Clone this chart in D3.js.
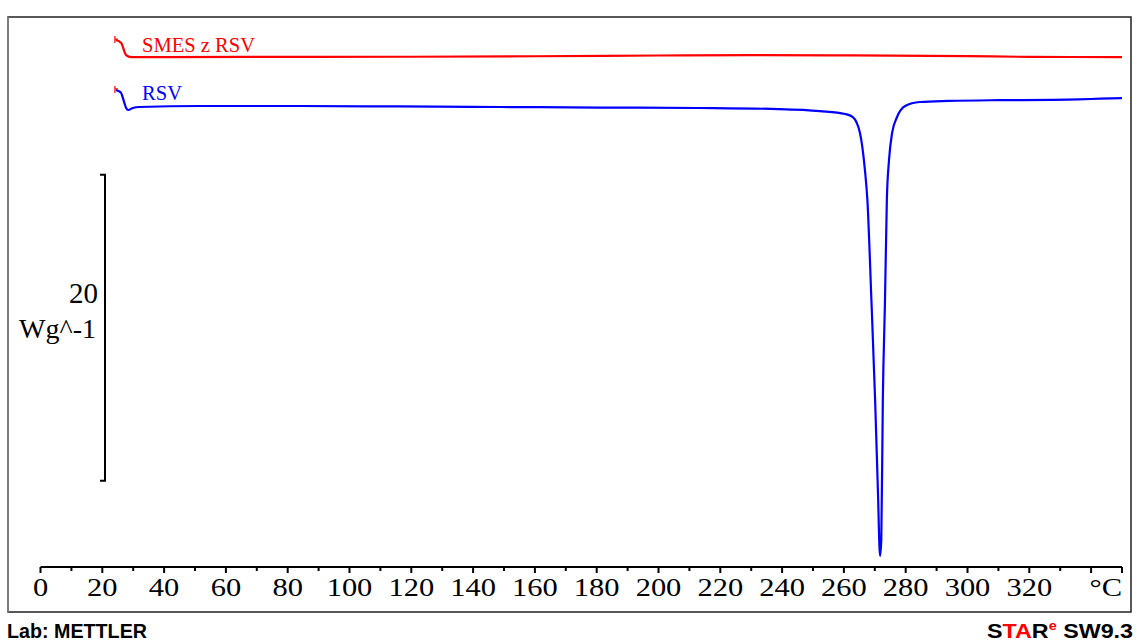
<html>
<head>
<script src="https://cdnjs.cloudflare.com/ajax/libs/d3/7.8.5/d3.min.js"></script>
</head>
<body style="margin: 0; background: #fff;">
<script>
// DSC curves, heat flow in W/g (offset) vs temperature in °C
var redName = "SMES z RSV";
var redT = [24.4, 26.1, 27.7, 29.3, 30.5, 40, 80, 120, 160, 200, 230, 260, 300, 320, 350];
var redV = [4.31, 4.12, 3.33, 3.20, 3.20, 3.20, 3.21, 3.22, 3.25, 3.30, 3.33, 3.31, 3.26, 3.21, 3.20];

var blueName = "RSV";
var blueT = [24.4, 25.5, 26.1, 27.0, 27.7, 28.4, 29.9, 32, 51.6, 84, 116, 149, 181, 213, 239,
             252.3, 260.4, 262.9, 265.2, 266.8, 267.6, 268.9, 270.1, 271.0, 271.7,
             272.1, 272.6, 273.3, 273.9, 274.6, 275.6, 277.2, 279.8, 284.6, 294, 310, 327, 336, 343, 350];
var blueV = [1.05, 0.95, 0.85, 0.30, -0.13, -0.26, -0.13, -0.065, 0, 0, -0.03, -0.065, -0.10, -0.13, -0.20,
             -0.33, -0.52, -0.72, -1.76, -4.18, -6.14, -12.68, -19.22, -25.10, -29.41,
             -28.37, -19.22, -12.68, -6.14, -3.53, -1.76, -0.72, 0, 0.26, 0.33, 0.38, 0.40, 0.43, 0.48, 0.52];

var xTicks = d3.range(0, 351, 10);
var xLabels = d3.range(0, 321, 20);
var scaleBar = [-4.5, -24.5];   // 20 W/g bar

var SERIF = "Liberation Serif";
var SANS = "Liberation Sans";

var W = 1137, H = 641;
var svg = d3.select("body").append("svg")
    .attr("width", W).attr("height", H);

var x = d3.scaleLinear().domain([0, 350]).range([40.5, 1122]);
var y = d3.scaleLinear().domain([-30, 5]).range([565, 29.5]);

// clipped label peeking over the frame
svg.append("clipPath").attr("id", "topclip")
  .append("rect").attr("x", 0).attr("y", 13).attr("width", 100).attr("height", 4);
svg.append("text").attr("clip-path", "url(#topclip)")
    .attr("x", 20).attr("y", 28).attr("font-size", 20).attr("font-weight", "bold")
    .attr("font-family", SANS)
    .attr("textLength", 28).attr("lengthAdjust", "spacingAndGlyphs")
    .text("exo");

// frame
svg.append("path").attr("d", "M8,17H1131V612H8Z")
    .attr("fill", "none").attr("stroke", "#222").attr("stroke-width", 1.5);
svg.append("line").attr("x1", 8).attr("x2", 8).attr("y1", 17).attr("y2", 612)
    .attr("stroke", "#8a8a8a").attr("stroke-width", 1.5);

// x axis
var axisY = 567;
svg.append("line").attr("x1", x(0)).attr("x2", x(350)).attr("y1", axisY).attr("y2", axisY)
    .attr("stroke", "#000").attr("stroke-width", 2);
svg.append("g").selectAll("line").data(xTicks).enter().append("line")
    .attr("x1", d => x(d)).attr("x2", d => x(d))
    .attr("y1", axisY).attr("y2", d => d % 20 === 0 || d === 350 ? axisY + 6 : axisY + 4)
    .attr("stroke", "#000").attr("stroke-width", 2);
svg.append("g").selectAll("text").data(xLabels).enter().append("text")
    .attr("transform", d => `translate(${x(d)},596) scale(1.22,1)`)
    .attr("text-anchor", "middle").attr("font-size", 25).attr("font-family", SERIF)
    .text(d => d);
svg.append("text")
    .attr("transform", `translate(${x(350)},596) scale(1.22,1)`)
    .attr("text-anchor", "end").attr("font-size", 25).attr("font-family", SERIF)
    .text("°C");

// y scale bar
var barX = 105;
svg.append("path")
    .attr("d", `M${barX - 5},${y(scaleBar[0])}H${barX}V${y(scaleBar[1])}H${barX - 5}`)
    .attr("fill", "none").attr("stroke", "#000").attr("stroke-width", 2);
svg.append("text").attr("x", 98).attr("y", 303).attr("text-anchor", "end")
    .attr("font-size", 29).attr("font-family", SERIF).text("20");
svg.append("text").attr("x", 96).attr("y", 338).attr("text-anchor", "end")
    .attr("font-size", 28).attr("font-family", SERIF).text("Wg^-1");

// curves
var line = d3.line().x(d => x(d[0])).y(d => y(d[1])).curve(d3.curveMonotoneX);
var series = [
  {name: redName, t: redT, v: redV, color: "#ff0000", labelY: 52, len: 113},
  {name: blueName, t: blueT, v: blueV, color: "#0000ff", labelY: 100, len: 40}
];
series.forEach(s => {
  var pts = s.t.map((t, i) => [t, s.v[i]]);
  svg.append("path").attr("d", line(pts))
      .attr("fill", "none").attr("stroke", s.color).attr("stroke-width", 2.2)
      .attr("stroke-linejoin", "round");
  // start marker
  var sx = x(pts[0][0]), sy = y(pts[0][1]);
  svg.append("path").attr("d", `M${sx - 1},${sy + 3}v-7m0,3h3`)
      .attr("fill", "none").attr("stroke", "#ff0000").attr("stroke-width", 1.2);
  svg.append("text").attr("x", 142).attr("y", s.labelY)
      .attr("font-size", 22).attr("font-family", SERIF).attr("fill", s.color)
      .attr("textLength", s.len).attr("lengthAdjust", "spacingAndGlyphs")
      .text(s.name);
});

// footer
var foot = svg.append("g").attr("font-family", SANS)
    .attr("font-weight", "bold").attr("font-size", 21);
foot.append("text").attr("x", 7).attr("y", 638)
    .attr("textLength", 140).attr("lengthAdjust", "spacingAndGlyphs")
    .text("Lab: METTLER");
var star = foot.append("text").attr("x", 987).attr("y", 638)
    .attr("textLength", 146).attr("lengthAdjust", "spacingAndGlyphs");
star.append("tspan").attr("fill", "#000").text("S");
star.append("tspan").attr("fill", "#ff0000").text("TA");
star.append("tspan").attr("fill", "#000").text("R");
star.append("tspan").attr("fill", "#ff0000").attr("font-size", 13).attr("dy", -8).text("e");
star.append("tspan").attr("fill", "#000").attr("dy", 8).text(" SW9.3");
</script>
</body>
</html>
